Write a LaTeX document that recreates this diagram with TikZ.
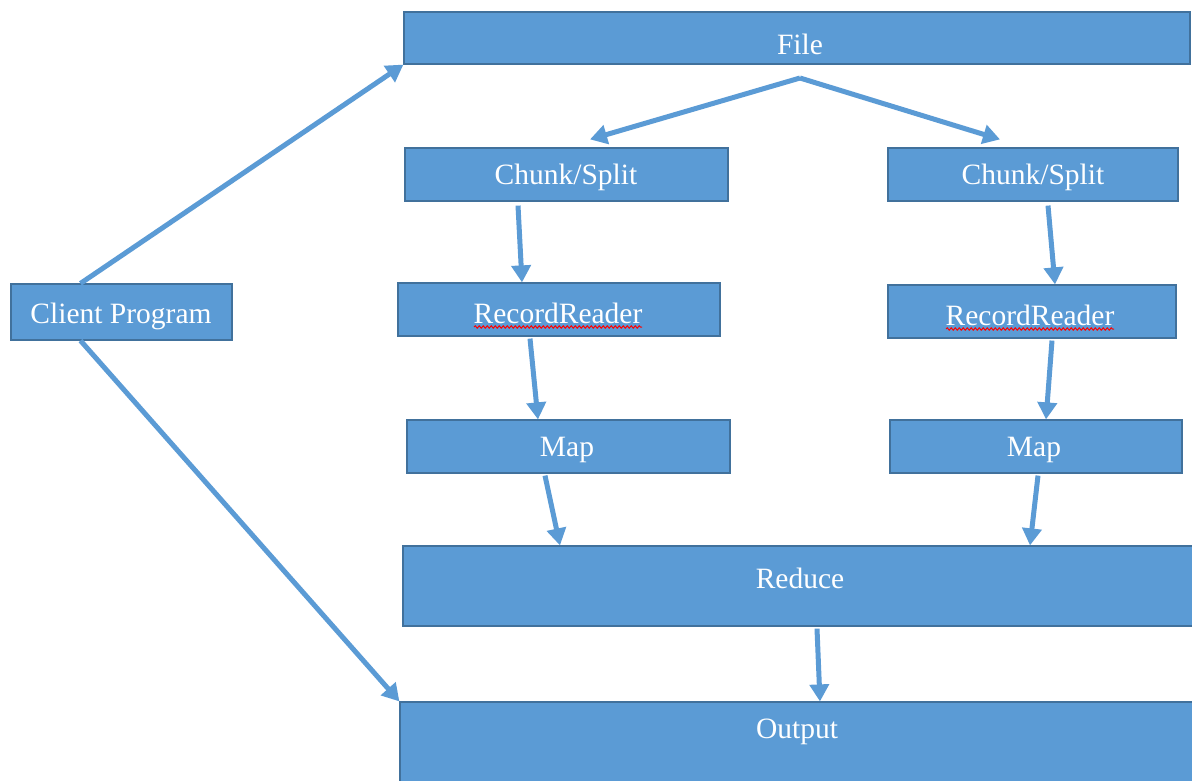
\documentclass[tikz,border=0pt]{standalone}
\usepackage{fontspec}
\setmainfont{Liberation Serif}
\usetikzlibrary{arrows.meta,calc,decorations.pathmorphing}
\definecolor{boxblue}{HTML}{5B9BD5}
\definecolor{boxedge}{HTML}{41719C}
\tikzset{
  box/.style={draw=boxedge, fill=boxblue, line width=1.2pt, inner sep=0pt, rectangle},
  txt/.style={text=white, font=\fontsize{29.5}{33}\selectfont, inner sep=0pt, yshift=-3pt},
  conn/.style={draw=boxblue, line width=5pt, -{Triangle[length=17pt,width=19pt]}},
  spell/.style={draw=red, line width=1pt, decorate, decoration={snake, amplitude=1.2pt, segment length=4pt}}
}
\begin{document}
\begin{tikzpicture}[x=1pt,y=-1pt]
\useasboundingbox (0,0) rectangle (1192,780);
\fill[white] (0,0) rectangle (1192,780);
% boxes
\node (file) [box, minimum width=786, minimum height=52] at (797,38) {};
\node[txt] (filet) at (800,41) {File};
\node (chunk1) [box, minimum width=323, minimum height=53] at (566.5,174.5) {};
\node[txt] (chunk1t) at (566,174) {Chunk/Split};
\node (chunk2) [box, minimum width=290, minimum height=53] at (1033,174.5) {};
\node[txt] (chunk2t) at (1033,174) {Chunk/Split};
\node (rr1) [box, minimum width=322, minimum height=53] at (559,309.5) {};
\node[txt] (rr1t) at (558,310) {RecordReader};
\node (rr2) [box, minimum width=288, minimum height=53] at (1032,311.5) {};
\node[txt] (rr2t) at (1030,312) {RecordReader};
\node (map1) [box, minimum width=323, minimum height=53] at (568.5,446.5) {};
\node[txt] (map1t) at (567,447) {Map};
\node (map2) [box, minimum width=292, minimum height=53] at (1036,446.5) {};
\node[txt] (map2t) at (1034,447) {Map};
\node (reduce) [box, minimum width=792, minimum height=80] at (799,586) {};
\node[txt] (reducet) at (800,575) {Reduce};
\node (output) [box, minimum width=794, minimum height=82] at (797,743) {};
\node[txt] (outputt) at (797,729) {Output};
\node (client) [box, minimum width=221, minimum height=56] at (121.5,312) {};
\node[txt] (clientt) at (121,313) {Client Program};
% spell-check underlines
\draw[spell] (474,327) -- (642,327);
\draw[spell] (946,329) -- (1114,329);
% connectors
\coordinate (fsplit) at (800,78);
\draw[conn] ($(client.north)+(-41,0)$) -- (file.south west);
\draw[conn] ($(client.south)+(-41,0)$) -- (output.north west);
\draw[conn] (fsplit) -- ($(chunk1.north)+(23.5,-8)$);
\draw[conn] (fsplit) -- ($(chunk2.north)+(-33,-8)$);
\draw[conn] ($(chunk1.south)+(-48.5,4)$) -- ($(rr1.north)+(-37,0)$);
\draw[conn] ($(chunk2.south)+(15,4)$) -- ($(rr2.north)+(23,0)$);
\draw[conn] ($(rr1.south)+(-29,2)$) -- ($(map1.north)+(-30.5,0)$);
\draw[conn] ($(rr2.south)+(20,2)$) -- ($(map2.north)+(10,0)$);
\draw[conn] ($(map1.south)+(-23.5,2)$) -- ($(reduce.north)+(-239,0)$);
\draw[conn] ($(map2.south)+(2,2)$) -- ($(reduce.north)+(231,0)$);
\draw[conn] ($(reduce.south)+(18,2)$) -- ($(output.north)+(23,0)$);
\end{tikzpicture}
\end{document}
